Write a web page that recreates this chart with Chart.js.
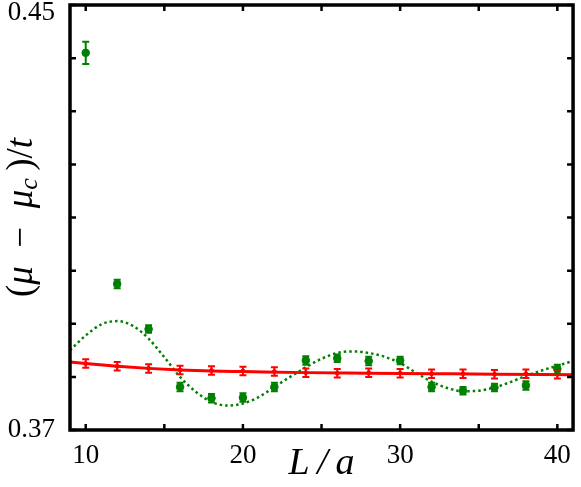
<!DOCTYPE html>
<html>
<head>
<meta charset="utf-8">
<script src="https://cdn.jsdelivr.net/npm/chart.js@4/dist/chart.umd.min.js"></script>
<style>
  html, body { margin: 0; padding: 0; background: #fff; }
  #wrap { width: 581px; height: 487px; }
</style>
</head>
<body>
<div id="wrap"><canvas id="chart" width="581" height="487"></canvas></div>
<script>
// measured points (L/a)
const sizes = [10, 12, 14, 16, 18, 20, 22, 24, 26, 28, 30, 32, 34, 36, 38, 40];
const greenVals = [0.4410, 0.3975, 0.3890, 0.3781, 0.3760, 0.3761, 0.3781, 0.3831, 0.3835, 0.3830, 0.3831, 0.3781, 0.3774, 0.3780, 0.3784, 0.3815];
const greenErrs = [0.0021, 0.0008, 0.0007, 0.0008, 0.0008, 0.0008, 0.0008, 0.0008, 0.0007, 0.0008, 0.0007, 0.0008, 0.0007, 0.0007, 0.0008, 0.0008];
const redVals = [0.3825, 0.3820, 0.3816, 0.3813, 0.3812, 0.3811, 0.3810, 0.3808, 0.3807, 0.3808, 0.3807, 0.3806, 0.3806, 0.3805, 0.3806, 0.3805];
const redErrs = [0.0008, 0.0008, 0.0008, 0.0008, 0.0008, 0.0008, 0.0008, 0.0008, 0.0008, 0.0008, 0.0008, 0.0008, 0.0008, 0.0008, 0.0008, 0.0008];

// fit curves
const greenFitX = [9, 10, 11, 12, 13, 14, 15, 16, 17, 18, 19, 20, 21, 22, 23, 24, 25, 26, 27, 28, 29, 30, 31, 32, 33, 34, 35, 36, 37, 38, 39, 40, 41];
const greenFitY = [0.3850, 0.3878, 0.3899, 0.3905, 0.3896, 0.3872, 0.3837, 0.3800, 0.3772, 0.3753, 0.3746, 0.3750, 0.3762, 0.3781, 0.3800, 0.3818, 0.3834, 0.3845, 0.3848, 0.3845, 0.3838, 0.3826, 0.3808, 0.3791, 0.3779, 0.3773, 0.3774, 0.3780, 0.3790, 0.3802, 0.3812, 0.3821, 0.3830];
const redFitX = [9, 10, 12, 14, 16, 18, 20, 24, 28, 32, 36, 41];
const redFitY = [0.3828, 0.3825, 0.3820, 0.3816, 0.3813, 0.3811, 0.3810, 0.3808, 0.3807, 0.3806, 0.3805, 0.3804];

// ticks
const xTicks = [10, 15, 20, 25, 30, 35, 40];
const xLabels = [10, 20, 30, 40];
const yTicks = [0.37, 0.38, 0.39, 0.40, 0.41, 0.42, 0.43, 0.44, 0.45];
const yLabels = ['0.37', '0.45'];

const GREEN = '#008000';
const RED = '#ff0000';
const serif = "'Liberation Serif', 'DejaVu Serif', serif";

const toPts = (xs, ys) => xs.map((x, i) => ({ x: x, y: ys[i] }));

// error bars
const errorBars = {
  id: 'errorBars',
  afterDatasetsDraw(chart) {
    const { ctx, scales: { x, y } } = chart;
    chart.data.datasets.forEach(ds => {
      if (!ds.errors) return;
      ctx.save();
      ctx.strokeStyle = ds.borderColor;
      ctx.lineWidth = 2;
      ds.data.forEach((p, i) => {
        const px = x.getPixelForValue(p.x);
        const top = y.getPixelForValue(p.y + ds.errors[i]);
        const bot = y.getPixelForValue(p.y - ds.errors[i]);
        ctx.beginPath();
        ctx.moveTo(px, top); ctx.lineTo(px, bot);
        ctx.moveTo(px - 3.5, top); ctx.lineTo(px + 3.5, top);
        ctx.moveTo(px - 3.5, bot); ctx.lineTo(px + 3.5, bot);
        ctx.stroke();
      });
      ctx.restore();
    });
  }
};

// frame, inward ticks, y labels and y title
const frame = {
  id: 'frame',
  afterDraw(chart) {
    const { ctx, chartArea: a, scales: { x, y } } = chart;
    ctx.save();
    ctx.strokeStyle = '#000';
    ctx.lineWidth = 2.5;
    xTicks.forEach(v => {
      const px = x.getPixelForValue(v);
      ctx.beginPath();
      ctx.moveTo(px, a.bottom); ctx.lineTo(px, a.bottom - 6);
      ctx.moveTo(px, a.top); ctx.lineTo(px, a.top + 6);
      ctx.stroke();
    });
    yTicks.forEach(v => {
      const py = y.getPixelForValue(v);
      ctx.beginPath();
      ctx.moveTo(a.left, py); ctx.lineTo(a.left + 6, py);
      ctx.moveTo(a.right, py); ctx.lineTo(a.right - 6, py);
      ctx.stroke();
    });
    ctx.lineWidth = 3.5;
    ctx.strokeRect(a.left, a.top, a.right - a.left, a.bottom - a.top);

    // y tick labels
    ctx.fillStyle = '#000';
    ctx.font = '27px ' + serif;
    ctx.textAlign = 'right';
    ctx.textBaseline = 'middle';
    ctx.fillText(yLabels[0], 55, y.getPixelForValue(0.37));
    ctx.fillText(yLabels[1], 55, 13);

    // y title: (μ − μc)/t, centred on the axes
    const parts = [
      { t: '(', f: '37px ' + serif, dy: 0 },
      { t: 'μ', f: 'italic 37px ' + serif, dy: 0 },
      { t: '  −  ', f: '37px ' + serif, dy: 0 },
      { t: 'μ', f: 'italic 37px ' + serif, dy: 0 },
      { t: 'c', f: 'italic 26px ' + serif, dy: 8 },
      { t: '\u2009)', f: '37px ' + serif, dy: 0 },
      { t: '/', f: '37px ' + serif, dy: 0 },
      { t: 't', f: 'italic 37px ' + serif, dy: 0 }
    ];
    let total = 0;
    parts.forEach(p => { ctx.font = p.f; p.w = ctx.measureText(p.t).width; total += p.w; });
    ctx.translate(22, (a.top + a.bottom) / 2);
    ctx.rotate(-Math.PI / 2);
    ctx.textAlign = 'left';
    ctx.textBaseline = 'middle';
    let cx = -total / 2;
    parts.forEach(p => {
      ctx.font = p.f;
      ctx.fillText(p.t, cx, p.dy);
      cx += p.w;
    });
    ctx.restore();
  }
};

const ctx = document.getElementById('chart').getContext('2d');
const chart = new Chart(ctx, {
  type: 'scatter',
  data: {
    datasets: [
      {
        label: 'green fit',
        data: toPts(greenFitX, greenFitY),
        showLine: true,
        borderColor: GREEN,
        borderWidth: 2.5,
        borderDash: [2.5, 3],
        pointRadius: 0,
        cubicInterpolationMode: 'monotone',
        order: 4
      },
      {
        label: 'red fit',
        data: toPts(redFitX, redFitY),
        showLine: true,
        borderColor: RED,
        borderWidth: 3,
        pointRadius: 0,
        cubicInterpolationMode: 'monotone',
        order: 3
      },
      {
        label: 'red',
        data: toPts(sizes, redVals),
        errors: redErrs,
        borderColor: RED,
        backgroundColor: RED,
        pointRadius: 2,
        order: 2
      },
      {
        label: 'green',
        data: toPts(sizes, greenVals),
        errors: greenErrs,
        borderColor: GREEN,
        backgroundColor: GREEN,
        pointRadius: 3.8,
        order: 1
      }
    ]
  },
  options: {
    responsive: false,
    animation: false,
    layout: { padding: { top: 3, right: 3, left: 0, bottom: 0 } },
    plugins: { legend: { display: false }, tooltip: { enabled: false } },
    scales: {
      x: {
        type: 'linear',
        min: 9,
        max: 41,
        afterBuildTicks: s => { s.ticks = xLabels.map(v => ({ value: v })); },
        afterFit: s => { s.height = 57; },
        grid: { display: false, drawTicks: false },
        border: { display: false },
        ticks: {
          color: '#000',
          padding: 10,
          maxRotation: 0,
          font: { family: serif, size: 27 },
          callback: v => String(v)
        },
        title: {
          display: true,
          text: 'L\u2009/\u2009a',
          color: '#000',
          font: { family: serif, size: 38, style: 'italic' },
          padding: { top: 0, bottom: 0 }
        }
      },
      y: {
        type: 'linear',
        min: 0.37,
        max: 0.45,
        afterFit: s => { s.width = 70; },
        grid: { display: false, drawTicks: false },
        border: { display: false },
        ticks: { display: false }
      }
    }
  },
  plugins: [errorBars, frame]
});
</script>
</body>
</html>
